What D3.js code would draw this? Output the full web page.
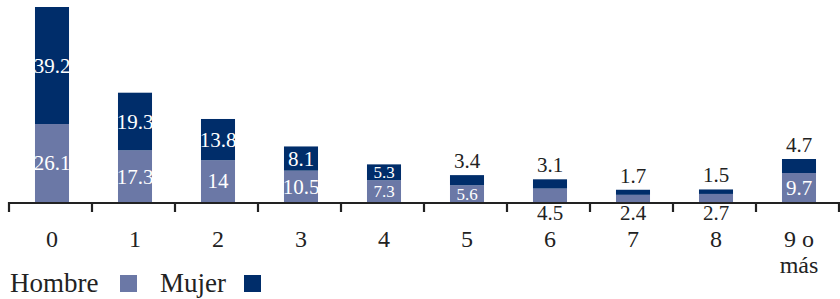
<!DOCTYPE html>
<html><head><meta charset="utf-8">
<script src="https://cdn.jsdelivr.net/npm/d3@7"></script>
<style>body{margin:0;background:#fff}svg{display:block}text{font-family:"Liberation Serif",serif}</style>
</head><body><svg id="c" width="840" height="299"></svg>
<script>
const categories = ["0","1","2","3","4","5","6","7","8","9 o más"];
const hombre = [26.1,17.3,14,10.5,7.3,5.6,4.5,2.4,2.7,9.7];
const mujer  = [39.2,19.3,13.8,8.1,5.3,3.4,3.1,1.7,1.5,4.7];
const seriesNames = ["Hombre","Mujer"];
const colors = {Hombre:"#6b78a6", Mujer:"#002d6a"};

const svg = d3.select("#c");
const base = 202;
const x = d3.scaleBand().domain(categories).range([10.5,840.5]).paddingInner(0.59).paddingOuter(0.295);
const xt = d3.scaleBand().domain(categories).range([9,839]);
const y = d3.scaleLinear().domain([0, d3.max(hombre.map((h,i)=>h+mujer[i]))]).range([base,7]);

const data = categories.map((c,i)=>({cat:c, Hombre:hombre[i], Mujer:mujer[i]}));
const stack = d3.stack().keys(seriesNames)(data);

const defs = svg.append("defs");

stack.forEach(s=>{
  svg.append("g").selectAll("rect").data(s).join("rect")
    .attr("x",d=>x(d.data.cat)).attr("width",x.bandwidth())
    .attr("y",d=>y(d[1])).attr("height",d=>y(d[0])-y(d[1]))
    .attr("fill",colors[s.key]);
});

// value labels
stack.forEach(s=>{
  s.forEach((d,i)=>{
    const v = d.data[s.key];
    const h = y(d[0])-y(d[1]);
    const cx = x(d.data.cat)+x.bandwidth()/2;
    const t = svg.append("text").attr("text-anchor","middle").attr("font-size",21).text(String(v));
    if (h >= 15) {
      const id = "cl"+s.key+i;
      defs.append("clipPath").attr("id",id).append("rect")
        .attr("x",x(d.data.cat)).attr("width",x.bandwidth()).attr("y",y(d[1])).attr("height",h);
      t.attr("x",cx).attr("y",(y(d[0])+y(d[1]))/2).attr("dy","0.35em").attr("fill","#fff")
       .attr("clip-path","url(#"+id+")");
      if (h < 23) t.attr("font-size",17);
    } else if (s.key==="Mujer") {
      t.attr("x",cx).attr("y",y(d[1])-7).attr("fill","#222");
    } else {
      t.attr("x",cx).attr("y",base+11).attr("dy","0.35em").attr("fill","#222");
    }
  });
});

// axis
const ax = svg.append("g");
ax.append("line").attr("x1",8).attr("x2",840).attr("y1",base+1).attr("y2",base+1)
  .attr("stroke","#222").attr("stroke-width",2.2);
const tickPos = categories.map(c=>xt(c)).concat([xt.range()[1]]);
ax.selectAll("line.t").data(tickPos).join("line").attr("class","t")
  .attr("x1",d=>d).attr("x2",d=>d).attr("y1",base).attr("y2",base+10)
  .attr("stroke","#222").attr("stroke-width",2.2);

categories.forEach(c=>{
  const parts = c==="9 o más" ? ["9 o","más"] : [c];
  const t = svg.append("text").attr("text-anchor","middle").attr("font-size",24).attr("fill","#222")
    .attr("x",x(c)+x.bandwidth()/2).attr("y",247);
  parts.forEach((p,k)=>t.append("tspan").attr("x",x(c)+x.bandwidth()/2).attr("dy",k?26:0).text(p));
});

// legend
const lg = svg.append("g");
lg.append("text").attr("x",10).attr("y",292).attr("font-size",27).attr("fill","#222").text("Hombre");
lg.append("rect").attr("x",120).attr("y",275).attr("width",17).attr("height",17).attr("fill",colors.Hombre);
lg.append("text").attr("x",160).attr("y",292).attr("font-size",27).attr("fill","#222").text("Mujer");
lg.append("rect").attr("x",244).attr("y",275).attr("width",17).attr("height",17).attr("fill",colors.Mujer);
</script></body></html>
